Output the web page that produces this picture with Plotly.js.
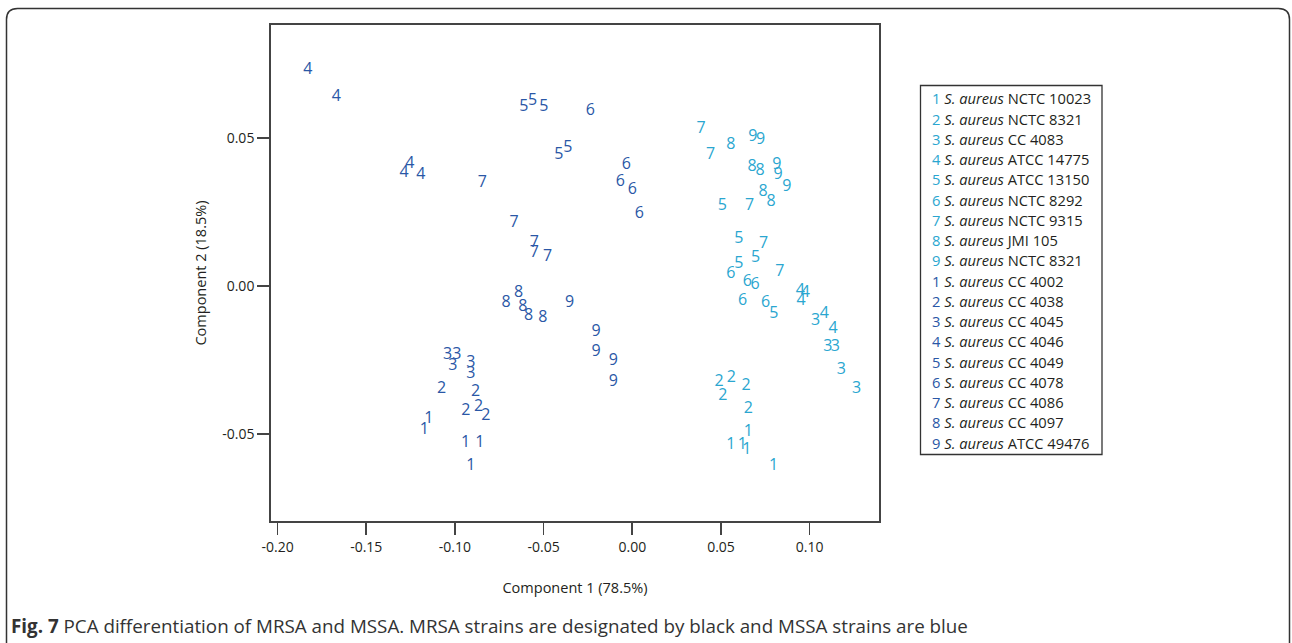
<!DOCTYPE html>
<html><head><meta charset="utf-8">
<script src="https://cdn.plot.ly/plotly-3.0.1.min.js"></script>
<style>html,body{margin:0;padding:0;background:#fff}#chart{width:1292px;height:643px}</style>
</head><body><div id="chart"></div>
<script>
// ---- data ----
const groupLabels = ['1','2','3','4','5','6','7','8','9'];
const mssaNames = ['NCTC 10023','NCTC 8321','CC 4083','ATCC 14775','ATCC 13150','NCTC 8292','NCTC 9315','JMI 105','NCTC 8321'];
const mrsaNames = ['CC 4002','CC 4038','CC 4045','CC 4046','CC 4049','CC 4078','CC 4086','CC 4097','ATCC 49476'];

// MSSA (light blue) replicate coordinates, one sub-array per strain 1..9
const mssaX = [
  [0.0654, 0.0555, 0.0620, 0.0646, 0.0797],
  [0.0489, 0.0558, 0.0641, 0.0510, 0.0654],
  [0.1034, 0.1102, 0.1145, 0.1179, 0.1265],
  [0.0948, 0.0976, 0.0952, 0.1083, 0.1132],
  [0.0508, 0.0601, 0.0601, 0.0695, 0.0798],
  [0.0555, 0.0648, 0.0693, 0.0622, 0.0752],
  [0.0388, 0.0442, 0.0662, 0.0740, 0.0832],
  [0.0555, 0.0676, 0.0721, 0.0738, 0.0783],
  [0.0680, 0.0723, 0.0815, 0.0822, 0.0871]
];
const mssaY = [
  [-0.0493, -0.0538, -0.0538, -0.0555, -0.0609],
  [-0.0324, -0.0312, -0.0339, -0.0372, -0.0416],
  [-0.0118, -0.0206, -0.0206, -0.0284, -0.0350],
  [-0.0017, -0.0023, -0.0051, -0.0095, -0.0146],
  [0.0270, 0.0159, 0.0074, 0.0095, -0.0096],
  [0.0039, 0.0012, 0.0003, -0.0050, -0.0057],
  [0.0531, 0.0443, 0.0271, 0.0142, 0.0048],
  [0.0477, 0.0403, 0.0390, 0.0317, 0.0285],
  [0.0503, 0.0493, 0.0409, 0.0375, 0.0335]
];
// MRSA (dark blue)
const mrsaX = [
  [-0.1147, -0.1173, -0.0940, -0.0860, -0.0911],
  [-0.1075, -0.0884, -0.0939, -0.0866, -0.0826],
  [-0.1042, -0.0989, -0.1012, -0.0911, -0.0911],
  [-0.1829, -0.1669, -0.1254, -0.1287, -0.1192],
  [-0.0611, -0.0562, -0.0499, -0.0414, -0.0364],
  [-0.0236, -0.0034, -0.0067, 0.0000, 0.0039],
  [-0.0845, -0.0667, -0.0553, -0.0553, -0.0478],
  [-0.0712, -0.0641, -0.0617, -0.0585, -0.0504],
  [-0.0354, -0.0204, -0.0204, -0.0107, -0.0107]
];
const mrsaY = [
  [-0.0451, -0.0487, -0.0532, -0.0532, -0.0608],
  [-0.0350, -0.0358, -0.0422, -0.0409, -0.0440],
  [-0.0235, -0.0235, -0.0270, -0.0262, -0.0298],
  [0.0730, 0.0640, 0.0412, 0.0383, 0.0375],
  [0.0604, 0.0626, 0.0604, 0.0443, 0.0465],
  [0.0591, 0.0409, 0.0351, 0.0324, 0.0243],
  [0.0349, 0.0212, 0.0146, 0.0110, 0.0097],
  [-0.0057, -0.0023, -0.0070, -0.0102, -0.0110],
  [-0.0057, -0.0155, -0.0225, -0.0253, -0.0324]
];

const xTickVals = [-0.20, -0.15, -0.10, -0.05, 0.00, 0.05, 0.10];
const xTickText = ['-0.20', '-0.15', '-0.10', '-0.05', '0.00', '0.05', '0.10'];
const yTickVals = [-0.05, 0.00, 0.05];
const yTickText = ['-0.05', '0.00', '0.05'];

// ---- styling ----
const MSSA_COLOR = '#2aa6d0';
const MRSA_COLOR = '#2a57a6';
const FONT = 'Open Sans, Noto Sans, sans-serif';
const TXT = '#231f20';

const W = 1292, H = 643;
const M = {l: 271, r: 413, t: 25, b: 122};
const PW = W - M.l - M.r, PH = H - M.t - M.b;
const px = x => (x - M.l) / PW;
const py = y => (H - M.b - y) / PH;

const traces = [];
function addGroup(xs, ys, color) {
  xs.forEach((gx, i) => {
    traces.push({
      type: 'scatter', mode: 'text',
      x: gx, y: ys[i],
      text: gx.map(() => groupLabels[i]),
      textposition: 'middle center',
      textfont: {family: FONT, size: 16, color: color},
      hoverinfo: 'skip', showlegend: false, cliponaxis: false
    });
  });
}
addGroup(mrsaX, mrsaY, MRSA_COLOR);
addGroup(mssaX, mssaY, MSSA_COLOR);

const annotations = [];
const legendRows = [];
groupLabels.forEach((d, i) => legendRows.push({d: d, c: MSSA_COLOR, n: mssaNames[i]}));
groupLabels.forEach((d, i) => legendRows.push({d: d, c: MRSA_COLOR, n: mrsaNames[i]}));
legendRows.forEach((r, i) => {
  annotations.push({
    xref: 'paper', yref: 'paper', x: px(930), y: py(98.3 + i * 20.26),
    xanchor: 'left', yanchor: 'middle', showarrow: false, align: 'left',
    text: '<span style="color:' + r.c + '">' + r.d + '</span> <i>S. aureus</i> ' + r.n,
    font: {family: FONT, size: 14.7, color: TXT}
  });
});
annotations.push({
  xref: 'paper', yref: 'paper', x: px(9), y: py(626),
  xanchor: 'left', yanchor: 'middle', showarrow: false, align: 'left',
  text: '<b>Fig. 7</b> PCA differentiation of MRSA and MSSA. MRSA strains are designated by black and MSSA strains are blue',
  font: {family: FONT, size: 18.8, color: '#333333'}
});

// outer rounded frame
const fl = 6.5, ft = 8.5, fr = 1289.5, fb = 720, rad = 11;
const framePath = 'M ' + px(fl) + ' ' + py(fb) +
  ' L ' + px(fl) + ' ' + py(ft + rad) +
  ' Q ' + px(fl) + ' ' + py(ft) + ' ' + px(fl + rad) + ' ' + py(ft) +
  ' L ' + px(fr - rad) + ' ' + py(ft) +
  ' Q ' + px(fr) + ' ' + py(ft) + ' ' + px(fr) + ' ' + py(ft + rad) +
  ' L ' + px(fr) + ' ' + py(fb);

const shapes = [
  {type: 'rect', xref: 'paper', yref: 'paper', x0: px(920.5), x1: px(1102), y0: py(85.5), y1: py(454.5),
   line: {color: '#333333', width: 1.3}, fillcolor: 'rgba(0,0,0,0)'},
  {type: 'path', xref: 'paper', yref: 'paper', path: framePath, line: {color: '#333333', width: 1.5}}
];

const axisCommon = {
  showgrid: false, zeroline: false, showline: true, mirror: true,
  linecolor: '#444444', linewidth: 1.8,
  ticks: 'outside', ticklen: 12, tickwidth: 1.6, tickcolor: '#444444',
  tickfont: {family: FONT, size: 14, color: TXT},
  fixedrange: true
};

const layout = {
  width: W, height: H,
  margin: M,
  paper_bgcolor: '#ffffff', plot_bgcolor: '#ffffff',
  showlegend: false,
  xaxis: Object.assign({}, axisCommon, {
    range: [-0.2037, 0.1391], tickmode: 'array', tickvals: xTickVals, ticktext: xTickText,
    title: {text: 'Component 1 (78.5%)', font: {family: FONT, size: 14.5, color: TXT}, standoff: 28}
  }),
  yaxis: Object.assign({}, axisCommon, {
    range: [-0.0795, 0.0882], tickmode: 'array', tickvals: yTickVals, ticktext: yTickText,
    title: {text: 'Component 2 (18.5%)', font: {family: FONT, size: 14.5, color: TXT}, standoff: 12}
  }),
  annotations: annotations,
  shapes: shapes
};

Plotly.newPlot('chart', traces, layout, {staticPlot: true, displayModeBar: false});
</script>
</body></html>
